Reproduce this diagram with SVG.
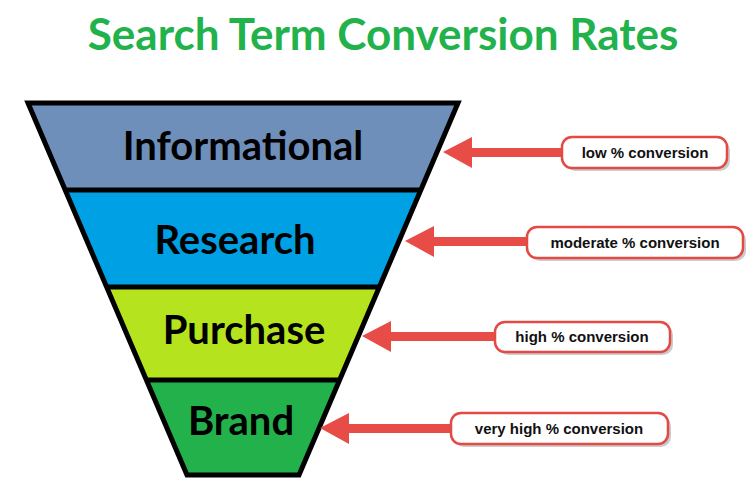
<svg xmlns="http://www.w3.org/2000/svg" width="755" height="503" viewBox="0 0 755 503">
<style>
.t{font-family:Lato,"Liberation Sans",sans-serif;font-weight:bold;font-size:40px;fill:#000;text-anchor:middle}
.l{font-family:"Liberation Sans",Arial,sans-serif;font-weight:bold;font-size:15px;fill:#111;text-anchor:middle}
.b{fill:#fff;stroke:#e24a44;stroke-width:2.5}
.s{fill:#999;opacity:.5}
.a{fill:#e84c47}
.bd{stroke:#000;stroke-width:5;stroke-linejoin:miter}
</style>
<rect width="755" height="503" fill="#fff"/>
<text x="383" y="50" font-family="Lato,'Liberation Sans',sans-serif" font-weight="bold" font-size="44" fill="#22b24c" text-anchor="middle">Search Term Conversion Rates</text>
<g id="informational"><polygon points="28,103 458,103 421,190 65,190" fill="#6f8fbb"/><text class="t" x="243" y="160">Informational</text></g>
<g id="research"><polygon points="65,190 421,190 379,287 107,287" fill="#00a1e4"/><text class="t" x="235" y="254">Research</text></g>
<g id="purchase"><polygon points="107,287 379,287 340,380 146,380" fill="#b5e31d"/><text class="t" x="244" y="344">Purchase</text></g>
<g id="brand"><polygon points="146,380 340,380 299,475 187,475" fill="#23b14c"/><text class="t" x="241" y="435">Brand</text></g>
<g id="outline" fill="none" class="bd">
<polygon points="28,103 458,103 299,475 187,475" class="bd" fill="none"/>
<line x1="65" y1="190" x2="421" y2="190" class="bd"/>
<line x1="107" y1="287" x2="379" y2="287" class="bd"/>
<line x1="146" y1="380" x2="340" y2="380" class="bd"/>
</g>
<g id="connectors">
<path class="a" d="M443,152 L472,137 L472,148 L565,148 L565,157 L472,157 L472,168 Z"/>
<path class="a" d="M405,241 L434,226 L434,237 L530,237 L530,246 L434,246 L434,257 Z"/>
<path class="a" d="M362,336 L391,321 L391,332 L498,332 L498,341 L391,341 L391,352 Z"/>
<path class="a" d="M320,428 L349,413 L349,424 L454,424 L454,433 L349,433 L349,444 Z"/>
</g>
<g id="low"><rect class="s" x="565" y="140" width="165" height="31" rx="10"/><rect class="b" x="562" y="137" width="165" height="31" rx="10"/><text class="l" x="645" y="158">low % conversion</text></g>
<g id="moderate"><rect class="s" x="530" y="230" width="216" height="31" rx="10"/><rect class="b" x="527" y="227" width="216" height="31" rx="10"/><text class="l" x="635" y="248">moderate % conversion</text></g>
<g id="high"><rect class="s" x="498" y="325" width="175" height="30" rx="10"/><rect class="b" x="495" y="322" width="175" height="30" rx="10"/><text class="l" x="582" y="342">high % conversion</text></g>
<g id="veryhigh"><rect class="s" x="454" y="416" width="217" height="31" rx="10"/><rect class="b" x="451" y="413" width="217" height="31" rx="10"/><text class="l" x="559" y="434">very high % conversion</text></g>
</svg>
